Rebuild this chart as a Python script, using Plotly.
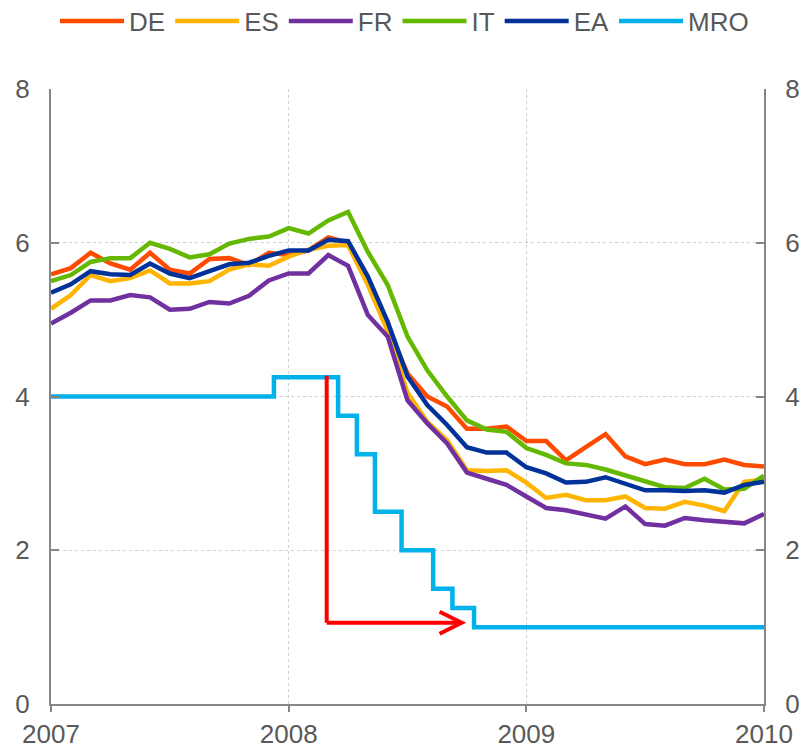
import plotly.graph_objects as go

# Monthly yields, Jan 2007 .. Jan 2010 (37 points)
months = list(range(37))
x_years = [2007 + m / 12 for m in months]

DE = [5.59, 5.67, 5.87, 5.73, 5.65, 5.87, 5.65, 5.60, 5.79, 5.80, 5.71, 5.87,
      5.84, 5.90, 6.07, 6.00, 5.50, 4.90, 4.30, 4.00, 3.87, 3.58, 3.58, 3.61,
      3.42, 3.42, 3.17, 3.34, 3.51, 3.22, 3.12, 3.18, 3.12, 3.12, 3.18, 3.11, 3.09]
ES = [5.14, 5.32, 5.58, 5.50, 5.54, 5.64, 5.47, 5.47, 5.50, 5.65, 5.72, 5.70,
      5.82, 5.91, 5.96, 5.97, 5.45, 4.85, 4.05, 3.67, 3.43, 3.04, 3.03, 3.04,
      2.88, 2.68, 2.72, 2.65, 2.65, 2.70, 2.55, 2.54, 2.63, 2.58, 2.51, 2.89, 2.92]
FR = [4.95, 5.09, 5.25, 5.25, 5.32, 5.29, 5.13, 5.14, 5.23, 5.21, 5.31, 5.51,
      5.60, 5.60, 5.84, 5.70, 5.06, 4.78, 3.95, 3.65, 3.39, 3.01, 2.93, 2.85,
      2.70, 2.55, 2.52, 2.47, 2.41, 2.57, 2.34, 2.32, 2.42, 2.39, 2.37, 2.35, 2.47]
IT = [5.50, 5.58, 5.75, 5.80, 5.80, 6.00, 5.92, 5.81, 5.85, 5.99, 6.05, 6.08,
      6.19, 6.12, 6.29, 6.40, 5.88, 5.45, 4.78, 4.34, 4.00, 3.69, 3.57, 3.54,
      3.33, 3.24, 3.13, 3.11, 3.05, 2.97, 2.89, 2.82, 2.81, 2.93, 2.79, 2.80, 2.97]
EA = [5.35, 5.46, 5.63, 5.59, 5.58, 5.73, 5.60, 5.54, 5.63, 5.72, 5.74, 5.83,
      5.90, 5.90, 6.04, 6.02, 5.56, 4.97, 4.26, 3.89, 3.63, 3.34, 3.27, 3.27,
      3.08, 3.00, 2.88, 2.89, 2.95, 2.86, 2.78, 2.78, 2.77, 2.78, 2.75, 2.85, 2.89]

# MRO rate, step changes (decimal year, new level)
mro_x = [2007.0, 2007.938, 2008.208, 2008.287, 2008.363, 2008.475, 2008.608, 2008.689, 2008.78, 2010.0]
mro_y = [4.00, 4.25, 3.75, 3.25, 2.50, 2.00, 1.50, 1.25, 1.00, 1.00]

# red arrow annotation
arrow_x0, arrow_x1 = 2008.16, 2008.728
arrow_top, arrow_bottom = 4.27, 1.057

colors = {"DE": "#FF4B00", "ES": "#FFB400", "FR": "#7030A0",
          "IT": "#65B800", "EA": "#003299", "MRO": "#00B1EA"}
series = {"DE": DE, "ES": ES, "FR": FR, "IT": IT, "EA": EA}

TXT = "#595959"
AX = "#868686"
FONT = "Liberation Sans, Arial, sans-serif"
LW = 4.5

fig = go.Figure()
for name, vals in series.items():
    fig.add_trace(go.Scatter(x=x_years, y=vals, name=name, mode="lines",
                             line=dict(color=colors[name], width=LW)))
fig.add_trace(go.Scatter(x=mro_x, y=mro_y, name="MRO", mode="lines",
                         line=dict(color=colors["MRO"], width=LW, shape="hv")))
# empty trace so the right-hand axis gets drawn
fig.add_trace(go.Scatter(x=[None], y=[None], yaxis="y2", showlegend=False, hoverinfo="skip"))

red = dict(color="#FF0000", width=4)
fig.add_shape(type="line", x0=arrow_x0, x1=arrow_x0, y0=arrow_top, y1=arrow_bottom,
              xref="x", yref="y", line=red, layer="above")
fig.add_shape(type="line", x0=arrow_x0, x1=arrow_x1 - 0.01, y0=arrow_bottom, y1=arrow_bottom,
              xref="x", yref="y", line=red, layer="above")
fig.add_shape(type="path", xref="x", yref="y", layer="above", line=red,
              path=f"M {arrow_x1 - 0.093},{arrow_bottom + 0.143} L {arrow_x1},{arrow_bottom} "
                   f"L {arrow_x1 - 0.093},{arrow_bottom - 0.143}")

axis_common = dict(showline=True, linecolor=AX, linewidth=2,
                   tickcolor=AX, tickwidth=2,
                   tickfont=dict(family=FONT, size=26, color=TXT),
                   zeroline=False, automargin=False)

fig.update_layout(
    width=803, height=748,
    margin=dict(l=51, r=39, t=89, b=44),
    paper_bgcolor="white", plot_bgcolor="white",
    font=dict(family=FONT, color=TXT),
    showlegend=True,
    legend=dict(orientation="h", xref="container", yref="container",
                x=55 / 803, xanchor="left", y=1 - 21 / 748, yanchor="middle",
                font=dict(family=FONT, size=26, color=TXT), itemwidth=64,
                tracegroupgap=0, bgcolor="rgba(0,0,0,0)"),
    xaxis=dict(range=[2007, 2010], tickvals=[2007, 2008, 2009, 2010],
               ticktext=["2007", "2008", "2009", "2010"],
               ticks="outside", ticklen=6,
               showgrid=True, gridcolor="#D0D0D0", griddash="dot", gridwidth=1,
               **axis_common),
    yaxis=dict(range=[0, 8], tickvals=[0, 2, 4, 6, 8], ticks="inside", ticklen=8,
               showgrid=True, gridcolor="#D0D0D0", griddash="dot", gridwidth=1,
               ticklabelstandoff=14, **axis_common),
    yaxis2=dict(range=[0, 8], tickvals=[0, 2, 4, 6, 8], ticks="inside", ticklen=8,
                overlaying="y", side="right", showgrid=False,
                ticklabelstandoff=14, **axis_common),
)

# drop the browser's default page margin so the figure sits at the window origin
fig.write_html("out.html", config={"displayModeBar": False},
               post_script="document.body.style.margin='0';document.body.style.overflow='hidden';")
